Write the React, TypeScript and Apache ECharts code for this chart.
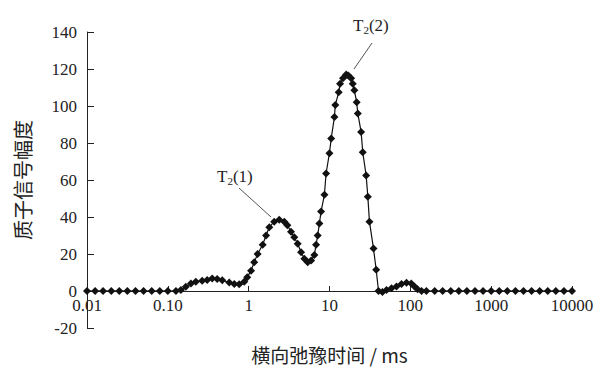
import React, { useEffect, useRef } from "react";
import * as echarts from "echarts";

// T2 relaxation time (ms) and proton signal amplitude
const t2Ms: number[] = [
  0.01, 0.0126, 0.0158, 0.02, 0.0251, 0.0316, 0.0398, 0.0501, 0.0631, 0.0794, 0.1, 0.126,
  0.145, 0.167, 0.193, 0.222, 0.266, 0.307, 0.354, 0.408, 0.471, 0.575, 0.664, 0.764,
  0.881, 0.961, 1.07, 1.17, 1.29, 1.49, 1.64, 1.8, 2.07, 2.39, 2.76, 3.01, 3.34, 3.67,
  4.04, 4.45, 4.89, 5.37, 5.92, 6.5, 6.82, 7.14, 7.5, 7.87, 8.65, 9.07, 9.98, 10.5,
  11.5, 11.8, 13.0, 13.5, 14.7, 16.1, 17.1, 18.5, 19.4, 20.3, 21.7, 22.4, 24.6, 25.8,
  28.4, 29.8, 31.2, 35.0, 37.8, 40.4, 45.2, 50.7, 58.5, 67.4, 77.8, 89.7, 102.6, 112.7,
  122.8, 137.6,
  158, 200, 251, 316, 398, 501, 631, 794, 1000, 1259, 1585, 1995, 2512, 3162, 3981,
  5012, 6310, 7943, 10000,
];

const amplitude: number[] = [
  0, 0, 0, 0, 0, 0, 0, 0, 0, 0, 0, 0,
  0.5, 2.3, 4, 5, 5.6, 6, 6.8, 6.5, 5.8, 4.6, 3.8, 3.6,
  5, 7.5, 11, 15.5, 20, 25, 30, 34.5, 37.5, 38.5, 37.5, 35.5, 32, 29,
  25.5, 21, 17.5, 15.5, 16.5, 19.5, 25, 30, 36.5, 43, 52, 63.5, 74.5, 82.5,
  94, 100.5, 107.5, 112, 115, 117, 116.5, 115, 112, 108.5, 102, 96, 86, 75,
  62.5, 51, 37.5, 23, 11.5, 0, -0.5, 0.5, 1.5, 2.5, 3.8, 4.5, 4, 2.5,
  1, 0,
  0, 0, 0, 0, 0, 0, 0, 0, 0, 0, 0, 0, 0, 0, 0,
  0, 0, 0, 0,
];

const xTickLabels: Record<string, string> = {
  "0.01": "0.01",
  "0.1": "0.10",
  "1": "1",
  "10": "10",
  "100": "100",
  "1000": "1000",
  "10000": "10000",
};

const yTicks = { min: -20, max: 140, interval: 20 };

const peakLabels = [
  { id: "1", x: 217, y: 166 },
  { id: "2", x: 353, y: 15 },
];

const SERIF = "'Liberation Serif', 'DejaVu Serif', serif";
const CJK = "'Noto Sans CJK SC', sans-serif";
const TEXT = "#222";

const GRID = { left: 87, right: 29, top: 32, bottom: 42 };
const CHART_H = 370;

export default function App() {
  const ref = useRef<HTMLDivElement>(null);

  useEffect(() => {
    if (!ref.current) return;
    const chart = echarts.init(ref.current, undefined, { renderer: "svg" });
    const data = t2Ms.map((t, i) => [t, amplitude[i]]);

    // lift the x axis from the grid bottom to the y = 0 level
    const plotH = CHART_H - GRID.top - GRID.bottom;
    const zeroLift = (plotH * (0 - yTicks.min)) / (yTicks.max - yTicks.min);

    const labelGraphics = peakLabels.map((p) => ({
      type: "text",
      x: p.x,
      y: p.y,
      style: {
        text: `{m|T}{s|2}{m|(${p.id})}`,
        rich: {
          m: { fontFamily: SERIF, fontSize: 17, lineHeight: 20, fill: TEXT, verticalAlign: "middle" },
          s: { fontFamily: SERIF, fontSize: 11, lineHeight: 20, fill: TEXT, verticalAlign: "bottom" },
        },
      },
    }));

    chart.setOption({
      animation: false,
      backgroundColor: "#fff",
      grid: { ...GRID, containLabel: false, outerBoundsMode: "none" },
      xAxis: {
        type: "log",
        logBase: 10,
        min: 0.01,
        max: 10000,
        position: "bottom",
        offset: -zeroLift,
        name: "横向弛豫时间 / ms",
        nameLocation: "middle",
        nameGap: 54,
        nameTextStyle: { fontFamily: CJK, fontSize: 19, color: TEXT },
        axisLine: { show: true, onZero: false, lineStyle: { color: "#222", width: 1 } },
        axisTick: { show: true, inside: true, length: 5, lineStyle: { color: "#222" } },
        minorTick: { show: false },
        splitLine: { show: false },
        axisLabel: {
          fontFamily: SERIF,
          fontSize: 17,
          color: TEXT,
          margin: 6,
          formatter: (v: number) => {
            const k = String(Number(v.toPrecision(6)));
            return xTickLabels[k] ?? k;
          },
        },
      },
      yAxis: {
        type: "value",
        min: yTicks.min,
        max: yTicks.max,
        interval: yTicks.interval,
        name: "质子信号幅度",
        nameLocation: "middle",
        nameRotate: 90,
        nameGap: 55,
        nameTextStyle: { fontFamily: CJK, fontSize: 20, color: TEXT },
        axisLine: { show: true, onZero: false, lineStyle: { color: "#222", width: 1 } },
        axisTick: { show: true, inside: true, length: 7, lineStyle: { color: "#222" } },
        splitLine: { show: false },
        axisLabel: { fontFamily: SERIF, fontSize: 17, color: TEXT, margin: 10 },
      },
      series: [
        {
          type: "line",
          data,
          symbol: "diamond",
          symbolSize: 8,
          showSymbol: true,
          lineStyle: { color: "#111", width: 1.2 },
          itemStyle: { color: "#111" },
          z: 3,
        },
      ],
      graphic: [
        ...labelGraphics,
        {
          type: "line",
          shape: { x1: 239, y1: 188, x2: 271, y2: 217 },
          style: { stroke: "#555", lineWidth: 1 },
        },
        {
          type: "line",
          shape: { x1: 372, y1: 43, x2: 354, y2: 69 },
          style: { stroke: "#555", lineWidth: 1 },
        },
      ],
    });

    return () => chart.dispose();
  }, []);

  return (
    <div
      ref={ref}
      style={{ position: "absolute", left: 0, top: 0, width: 601, height: CHART_H }}
    />
  );
}
